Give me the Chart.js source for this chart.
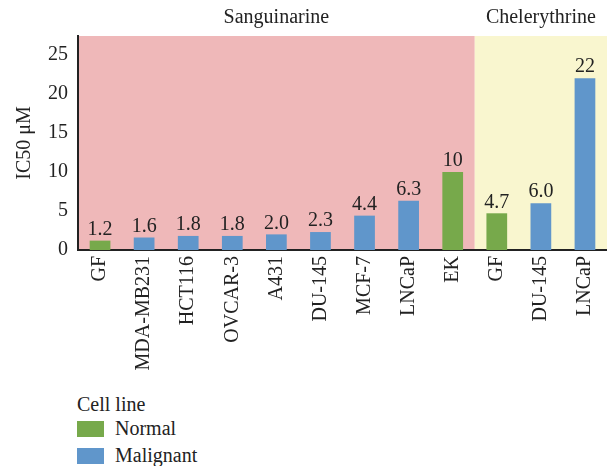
<!DOCTYPE html>
<html>
<head>
<meta charset="utf-8">
<script src="https://cdn.jsdelivr.net/npm/chart.js@4"></script>
<style>
  body { margin: 0; background: #fff; font-family: "Liberation Serif", serif; }
  #wrap { position: relative; width: 607px; height: 466px; }
  #box { position: absolute; left: 0; top: 0; width: 607px; height: 390px; }
  #legend { position: absolute; left: 77px; top: 394px; color: #222; font-size: 20px; }
  #legend .row { display: flex; align-items: center; height: 25px; }
  #legend .sw { width: 27px; height: 16px; margin-right: 11px; }
</style>
</head>
<body>
<div id="wrap">
  <div id="box"><canvas id="myChart"></canvas></div>
  <div id="legend"></div>
</div>
<script>
var labels = ['GF', 'MDA-MB231', 'HCT116', 'OVCAR-3', 'A431', 'DU-145', 'MCF-7', 'LNCaP', 'EK', 'GF', 'DU-145', 'LNCaP'];
var normal = [1.2, null, null, null, null, null, null, null, 10, 4.7, null, null];
var malignant = [null, 1.6, 1.8, 1.8, 2.0, 2.3, 4.4, 6.3, null, null, 6.0, 22];
var valueText = ['1.2', '1.6', '1.8', '1.8', '2.0', '2.3', '4.4', '6.3', '10', '4.7', '6.0', '22'];
var groups = [
  { name: 'Sanguinarine', from: 0, to: 8, color: '#efb8b9' },
  { name: 'Chelerythrine', from: 9, to: 11, color: '#f9f6cf' }
];
var yTicks = [0, 5, 10, 15, 20, 25];

var green = '#77a94b';
var blue = '#6096cb';
var serif = '"Liberation Serif", serif';

var bandsPlugin = {
  id: 'bands',
  beforeDraw: function(chart) {
    var c = chart.ctx, x = chart.scales.x, a = chart.chartArea;
    var half = (x.getPixelForValue(1) - x.getPixelForValue(0)) / 2;
    groups.forEach(function(g) {
      var l = Math.max(a.left, x.getPixelForValue(g.from) - half);
      var r = Math.min(a.right, x.getPixelForValue(g.to) + half);
      c.fillStyle = g.color;
      c.fillRect(l, a.top, r - l, a.bottom - a.top);
      c.fillStyle = '#222';
      c.font = '20px ' + serif;
      c.textAlign = 'center';
      c.textBaseline = 'middle';
      c.fillText(g.name, (l + r) / 2, 18);
    });
  },
  afterDatasetsDraw: function(chart) {
    var c = chart.ctx, x = chart.scales.x, y = chart.scales.y;
    c.fillStyle = '#222';
    c.font = '20px ' + serif;
    c.textAlign = 'center';
    c.textBaseline = 'bottom';
    for (var i = 0; i < labels.length; i++) {
      var v = normal[i] != null ? normal[i] : malignant[i];
      c.fillText(valueText[i], x.getPixelForValue(i), y.getPixelForValue(v) - 1);
    }
  }
};

var ctx = document.getElementById('myChart').getContext('2d');
var myChart = new Chart(ctx, {
  type: 'bar',
  data: {
    labels: labels,
    datasets: [
      { label: 'Normal', data: normal, backgroundColor: green },
      { label: 'Malignant', data: malignant, backgroundColor: blue }
    ]
  },
  options: {
    responsive: true,
    maintainAspectRatio: false,
    animation: false,
    layout: { padding: { top: 36, right: 0, left: 0, bottom: 0 } },
    datasets: { bar: { grouped: false, barPercentage: 0.47, categoryPercentage: 1 } },
    plugins: { legend: { display: false }, tooltip: { enabled: false } },
    scales: {
      x: {
        grid: { display: false, drawTicks: false },
        border: { color: '#222', width: 2 },
        ticks: {
          minRotation: 90, maxRotation: 90, autoSkip: false,
          color: '#222', font: { family: serif, size: 20 }, padding: 6
        },
        afterFit: function(s) { s.height = 140; s.paddingLeft = 0; s.paddingRight = 0; }
      },
      y: {
        min: 0, max: 27.4,
        grid: { display: false, drawTicks: false },
        border: { color: '#222', width: 2 },
        afterBuildTicks: function(s) { s.ticks = yTicks.map(function(v) { return { value: v }; }); },
        ticks: { color: '#222', font: { family: serif, size: 20 }, padding: 10 },
        title: { display: true, text: 'IC50 \u03bcM', color: '#222', font: { family: serif, size: 20 }, padding: { top: 13, bottom: 0 } },
        afterFit: function(s) { s.width = 78; }
      }
    }
  },
  plugins: [bandsPlugin]
});

var lg = document.getElementById('legend');
var html = '<div class="row" style="height:21px">Cell line</div>';
myChart.data.datasets.forEach(function(d) {
  html += '<div class="row" style="height:27px"><span class="sw" style="background:' + d.backgroundColor + '"></span>' + d.label + '</div>';
});
lg.innerHTML = html;
</script>
</body>
</html>
